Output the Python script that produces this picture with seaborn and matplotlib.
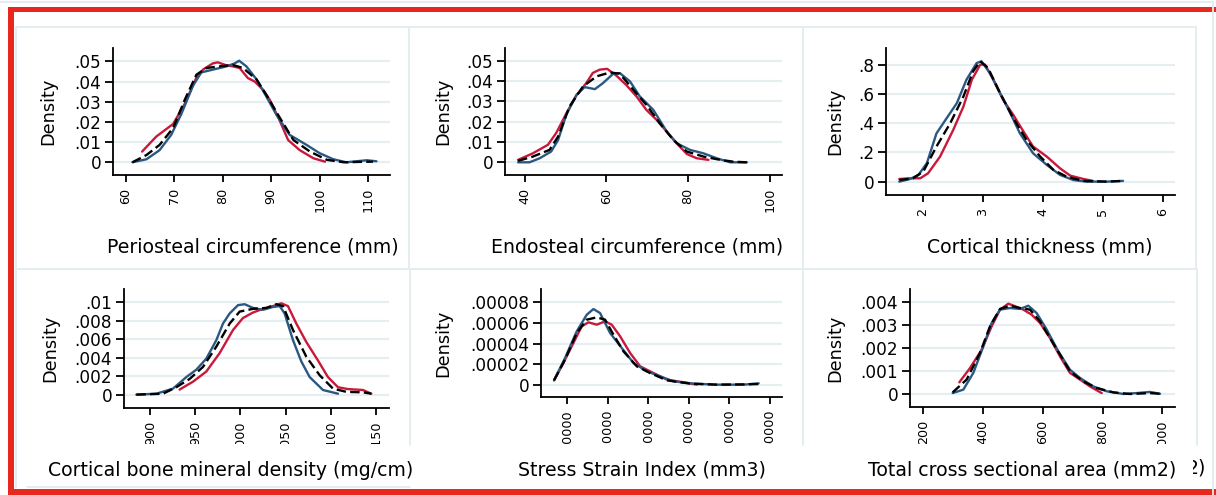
import matplotlib
matplotlib.use("Agg")
import numpy as np
import pandas as pd
import matplotlib.pyplot as plt
import seaborn as sns
from matplotlib.patches import Rectangle
from matplotlib.lines import Line2D
from matplotlib.transforms import Bbox
from matplotlib.ticker import FuncFormatter

sns.set_style("ticks", {"axes.edgecolor": "black", "text.color": "black",
                        "axes.labelcolor": "black", "xtick.color": "black",
                        "ytick.color": "black"})
plt.rcParams["font.family"] = ["DejaVu Sans"]

# ---- density curves (x, density) ----
groups = ["group 1", "group 2", "all"]

peri_red_x = [63.4, 66.3, 69.8, 72.2, 74.6, 76.0, 78.0, 79.0, 80.8, 82.1, 83.5, 85.2, 86.6, 88.3, 89.7, 91.7, 93.5, 95.9, 98.7, 101.1]
peri_red_y = [.0053, .0127, .019, .029, .042, .046, .049, .0495, .048, .0475, .0467, .0417, .040, .036, .031, .021, .011, .006, .002, .0003]
peri_blue_x = [61.4, 64.3, 67.0, 69.4, 71.5, 73.9, 75.6, 78.0, 80.8, 82.5, 83.4, 84.9, 87.0, 89.0, 91.1, 93.8, 97.3, 100.0, 102.8, 105.5, 107.6, 109.7, 111.7]
peri_blue_y = [0, .0015, .006, .0136, .024, .038, .0445, .0459, .0475, .049, .0503, .0475, .041, .0326, .0235, .0136, .0086, .0045, .0015, 0, .0005, .001, .0005]
peri_all_x = [61.4, 64.3, 67.0, 69.8, 72.2, 74.6, 76.7, 79.4, 82.1, 84.2, 87.0, 89.0, 91.8, 94.6, 98.0, 101.5, 105.0, 108.3, 111.0]
peri_all_y = [0, .0036, .0086, .017, .031, .0434, .0467, .0475, .0482, .0467, .041, .0334, .022, .011, .0053, .0012, 0, .0002, .0003]

endo_red_x = [38.4, 42.0, 45.7, 47.7, 50.2, 52.7, 55.1, 56.7, 58.4, 60.2, 62.5, 64.9, 67.4, 69.8, 72.3, 74.8, 77.2, 79.7, 82.1, 85.0]
endo_red_y = [.0012, .0044, .0086, .0143, .024, .033, .039, .044, .0456, .046, .0426, .038, .0324, .0258, .0209, .0151, .0094, .0041, .002, .0012]
endo_blue_x = [38.4, 41.2, 43.7, 46.5, 48.2, 50.2, 52.7, 54.7, 57.2, 59.2, 61.7, 63.3, 65.8, 68.2, 71.5, 74.8, 77.2, 80.5, 83.8, 87.0, 90.3, 94.4]
endo_blue_y = [0, 0, .002, .0053, .011, .0234, .0332, .037, .036, .039, .0436, .0439, .0398, .0324, .0258, .0151, .0094, .0061, .0044, .002, 0, 0]
endo_all_x = [38.4, 42.0, 46.1, 48.2, 51.0, 54.3, 57.6, 60.9, 63.3, 66.6, 69.8, 73.1, 76.4, 79.7, 83.8, 87.9, 91.1, 94.4]
endo_all_y = [.0007, .0028, .0061, .0127, .0275, .0373, .0423, .0442, .0436, .0357, .0283, .0192, .011, .0053, .0028, .0012, .0003, 0]

thick_red_x = [1.61, 1.79, 1.96, 2.09, 2.29, 2.51, 2.68, 2.82, 2.96, 3.04, 3.18, 3.34, 3.51, 3.68, 3.84, 4.07, 4.29, 4.46, 4.68, 4.84]
thick_red_y = [.018, .023, .023, .057, .171, .354, .514, .697, .80, .80, .697, .56, .457, .343, .24, .171, .091, .041, .018, .005]
thick_blue_x = [1.61, 1.79, 1.93, 2.07, 2.23, 2.40, 2.57, 2.73, 2.90, 2.98, 3.12, 3.29, 3.46, 3.62, 3.84, 4.07, 4.29, 4.51, 4.73, 5.07, 5.34]
thick_blue_y = [0, .018, .046, .126, .33, .434, .537, .697, .811, .823, .743, .606, .469, .331, .194, .114, .046, .011, 0, 0, .005]
thick_all_x = [1.61, 1.84, 2.01, 2.23, 2.46, 2.68, 2.84, 2.96, 3.09, 3.29, 3.51, 3.73, 3.96, 4.18, 4.40, 4.68, 5.07, 5.34]
thick_all_y = [.011, .023, .069, .24, .40, .583, .754, .823, .777, .606, .434, .286, .171, .08, .034, .005, 0, .005]

bmd_red_x = [932.5, 947.3, 962.1, 976.9, 991.7, 1002.7, 1013.9, 1025.0, 1036.1, 1045.3, 1052.7, 1062.0, 1073.1, 1086.0, 1097.1, 1108.2, 1119.3, 1135.9, 1145.2]
bmd_red_y = [.00055, .0014, .0025, .0045, .007, .0083, .0089, .0093, .0096, .0099, .0096, .0077, .0057, .0037, .0019, .0008, .0006, .0005, .0001]
bmd_blue_x = [884.5, 906.7, 925.1, 939.9, 951.0, 962.1, 973.2, 980.6, 988.0, 997.3, 1004.7, 1013.9, 1025.0, 1036.1, 1043.5, 1049.0, 1058.3, 1067.5, 1076.8, 1091.6, 1108.2]
bmd_blue_y = [0, .0001, .00065, .0019, .0027, .0039, .0059, .0077, .0088, .0097, .0098, .0094, .0092, .0095, .0096, .0088, .0059, .0036, .0019, .0005, .0001]
bmd_all_x = [884.5, 914.1, 928.8, 943.6, 958.4, 973.2, 988.0, 999.1, 1013.9, 1028.7, 1039.8, 1047.2, 1058.3, 1073.1, 1087.9, 1102.7, 1117.5, 1135.9, 1145.2]
bmd_all_y = [0, .0001, .0008, .0017, .003, .0052, .0077, .009, .0093, .0094, .0098, .0096, .007, .0041, .0021, .00065, .0003, .00025, .0001]

ssi_red_x = [6700, 9010, 11490, 13550, 15200, 17260, 19320, 20970, 23040, 25510, 27990, 31290, 34590, 38710, 42010]
ssi_red_y = [4.2e-6, 2.1e-5, 4.05e-5, 5.67e-5, 6.06e-5, 5.83e-5, 6.15e-5, 5.83e-5, 4.7e-5, 3.08e-5, 1.78e-5, 1.13e-5, 4.9e-6, 2.3e-6, 0]
ssi_blue_x = [6700, 9420, 12310, 14790, 16440, 18090, 20560, 23450, 26340, 29640, 32940, 36240, 41190, 46960, 53560, 57280]
ssi_blue_y = [4.2e-6, 2.59e-5, 5.18e-5, 6.8e-5, 7.35e-5, 6.96e-5, 5.02e-5, 3.56e-5, 2.11e-5, 1.3e-5, 8.1e-6, 3.2e-6, 1.0e-6, 0, 0, 1.3e-6]
ssi_all_x = [6700, 9420, 12310, 14790, 17260, 19320, 21390, 23860, 27160, 30460, 34590, 40360, 46960, 54390, 57280]
ssi_all_y = [4.2e-6, 2.43e-5, 5.02e-5, 6.32e-5, 6.54e-5, 6.32e-5, 4.86e-5, 3.24e-5, 1.78e-5, 1.13e-5, 4.2e-6, 1.0e-6, 0, 3e-7, 6e-7]

area_red_x = [320.5, 356.2, 395.3, 428.8, 456.7, 484.6, 506.9, 534.8, 562.7, 590.6, 624.1, 657.6, 691.0, 724.5, 758.0, 797.1]
area_red_y = [.00051, .00113, .00193, .00295, .00368, .00394, .00383, .00368, .00346, .0031, .00244, .00164, .00092, .00063, .00033, .00004]
area_blue_x = [298.2, 333.9, 367.4, 400.9, 428.8, 456.7, 490.2, 523.7, 551.6, 579.5, 613.0, 652.0, 691.0, 724.5, 769.2, 813.8, 869.6, 914.3, 958.9, 992.4]
area_blue_y = [.00004, .00019, .00092, .00208, .0031, .00368, .00375, .00371, .00385, .00353, .00281, .00186, .00106, .0007, .00033, .00012, 0, .00004, .00009, .00001]
area_all_x = [298.2, 345.0, 389.7, 423.2, 456.7, 490.2, 523.7, 557.1, 590.6, 624.1, 657.6, 691.0, 735.7, 780.4, 836.2, 892.0, 958.9, 992.4]
area_all_y = [.00007, .00063, .00179, .00295, .00371, .00385, .00375, .00368, .00317, .00244, .00172, .00099, .00055, .00026, .00007, 0, .00004, .00001]

# ---- axis ticks and titles ----
peri_xticks = [60, 70, 80, 90, 100, 110]
peri_yticks = [0, .01, .02, .03, .04, .05]
endo_xticks = [40, 60, 80, 100]
endo_yticks = [0, .01, .02, .03, .04, .05]
thick_xticks = [2, 3, 4, 5, 6]
thick_yticks = [0, .2, .4, .6, .8]
bmd_xticks = [900, 950, 1000, 1050, 1100, 1150]
bmd_yticks = [0, .002, .004, .006, .008, .01]
ssi_xticks = [10000, 20000, 30000, 40000, 50000, 60000]
ssi_yticks = [0, .00002, .00004, .00006, .00008]
area_xticks = [200, 400, 600, 800, 1000]
area_yticks = [0, .001, .002, .003, .004]

titles = ["Periosteal circumference (mm)", "Endosteal circumference (mm)",
          "Cortical thickness (mm)", "Cortical bone mineral density (mg/cm)",
          "Stress Strain Index (mm3)", "Total cross sectional area (mm2)"]

palette = {"group 1": "#c8193c", "group 2": "#2b5882", "all": "black"}
dashes = {"group 1": "", "group 2": "", "all": (4.0, 1.8)}

W, H = 1216, 495


def fx(px):
    return px / W


def fy(py):
    return 1 - py / H


def stata_fmt(v, pos=None):
    s = f"{v:.6f}".rstrip("0").rstrip(".").lstrip("0")
    return s if s else "0"


panels = [
    dict(curves=[(peri_red_x, peri_red_y), (peri_blue_x, peri_blue_y), (peri_all_x, peri_all_y)],
         xticks=peri_xticks, yticks=peri_yticks, box=(113, 390, 48, 175),
         xlim=(57.4, 114.5), ylim=(-.0063, .0566), xlab=(252.5, 247), ylab=48),
    dict(curves=[(endo_red_x, endo_red_y), (endo_blue_x, endo_blue_y), (endo_all_x, endo_all_y)],
         xticks=endo_xticks, yticks=endo_yticks, box=(505, 782, 48, 175),
         xlim=(35.2, 103), ylim=(-.00625, .05625), xlab=(637.5, 247), ylab=443),
    dict(curves=[(thick_red_x, thick_red_y), (thick_blue_x, thick_blue_y), (thick_all_x, thick_all_y)],
         xticks=thick_xticks, yticks=thick_yticks, box=(886, 1175, 48, 195),
         xlim=(1.389, 6.206), ylim=(-.0914, .914), xlab=(1040, 247), ylab=835),
    dict(curves=[(bmd_red_x, bmd_red_y), (bmd_blue_x, bmd_blue_y), (bmd_all_x, bmd_all_y)],
         xticks=bmd_xticks, yticks=bmd_yticks, box=(124, 389, 289, 408),
         xlim=(870.8, 1164.8), ylim=(-.00145, .01145), xlab=(231, 470), ylab=50),
    dict(curves=[(ssi_red_x, ssi_red_y), (ssi_blue_x, ssi_blue_y), (ssi_all_x, ssi_all_y)],
         xticks=ssi_xticks, yticks=ssi_yticks, box=(541, 782, 289, 397),
         xlim=(3482, 63053), ylim=(-.000012, .000093), xlab=(642, 470), ylab=443),
    dict(curves=[(area_red_x, area_red_y), (area_blue_x, area_blue_y), (area_all_x, area_all_y)],
         xticks=area_xticks, yticks=area_yticks, box=(910, 1175, 289, 407),
         xlim=(155.4, 1042.6), ylim=(-.000567, .00458), xlab=(1022, 470), ylab=835),
]

fig = plt.figure(figsize=(W / 100, H / 100), dpi=100, facecolor="white")

# panel frames and outer border
frame_col = "#e4ecef"
for x0, y0, x1, y1 in [(0, 2, 1213, 2), (1213, 2, 1213, 495),
                       (16, 27, 1196, 27), (16, 269, 1196, 269),
                       (16, 27, 16, 487), (409, 27, 409, 269), (803, 27, 803, 269), (1196, 27, 1196, 269),
                       (410, 269, 410, 445), (803, 269, 803, 445), (1197, 269, 1197, 445),
                       (27, 487, 410, 487)]:
    fig.add_artist(Line2D([fx(x0), fx(x1)], [fy(y0), fy(y1)], color=frame_col, lw=1.3))

red = "#e8281c"
fig.add_artist(Rectangle((fx(8), fy(12)), fx(1216) - fx(8), fy(7) - fy(12), color=red, lw=0))
fig.add_artist(Rectangle((fx(8), fy(495)), fx(14) - fx(8), fy(7) - fy(495), color=red, lw=0))
fig.add_artist(Rectangle((fx(8), fy(495)), fx(1216) - fx(8), fy(489) - fy(495), color=red, lw=0))

axes = []
for i, p in enumerate(panels):
    l, r, t, b = p["box"]
    ax = fig.add_axes([fx(l), fy(b), fx(r) - fx(l), fy(t) - fy(b)])
    df = pd.concat([pd.DataFrame({"x": x, "density": y, "group": g})
                    for g, (x, y) in zip(groups, p["curves"])], ignore_index=True)
    sns.lineplot(data=df, x="x", y="density", hue="group", style="group",
                 hue_order=groups, style_order=groups, palette=palette, dashes=dashes,
                 estimator=None, sort=False, lw=1.7, legend=False, ax=ax)
    for line in ax.get_lines():
        line.set_solid_joinstyle("round")
        line.set_solid_capstyle("round")
    ax.set_xlim(*p["xlim"])
    ax.set_ylim(*p["ylim"])
    ax.set_xticks(p["xticks"])
    ax.set_yticks(p["yticks"])
    ax.yaxis.set_major_formatter(FuncFormatter(stata_fmt))
    ax.grid(axis="y", color="#e6eef1", lw=1.6)
    ax.set_axisbelow(True)
    ax.patch.set_alpha(0)
    sns.despine(ax=ax)
    for s in ["left", "bottom"]:
        ax.spines[s].set_linewidth(1.3)
    ax.tick_params(axis="x", labelrotation=90, labelsize=9.2, length=5, width=1.3, pad=4)
    ax.tick_params(axis="y", labelsize=12.2, length=5.5, width=1.3, pad=3)

    ax.set_xlabel(titles[i], fontsize=13.6, va="center")
    cx, cy = p["xlab"]
    ax.xaxis.set_label_coords((cx - l) / (r - l), (b - cy) / (b - t))
    ax.set_ylabel("Density", fontsize=12.8, va="center")
    ax.yaxis.set_label_coords((p["ylab"] - l) / (r - l), 0.5)
    axes.append(ax)

# stray fragment of a hidden title at the right edge
fig.text(fx(1206), fy(468), "2)", ha="right", va="center", fontsize=13.6,
         clip_on=True, clip_box=Bbox.from_extents(1193, 0, 1216, 495))

fig.canvas.draw()
clip = Bbox.from_extents(0, H - 443.5, W, H)
for ax in axes[3:]:
    for lab in ax.get_xticklabels():
        lab.set_clip_box(clip)
        lab.set_clip_on(True)

fig.savefig("out.png", dpi=100, facecolor="white")
